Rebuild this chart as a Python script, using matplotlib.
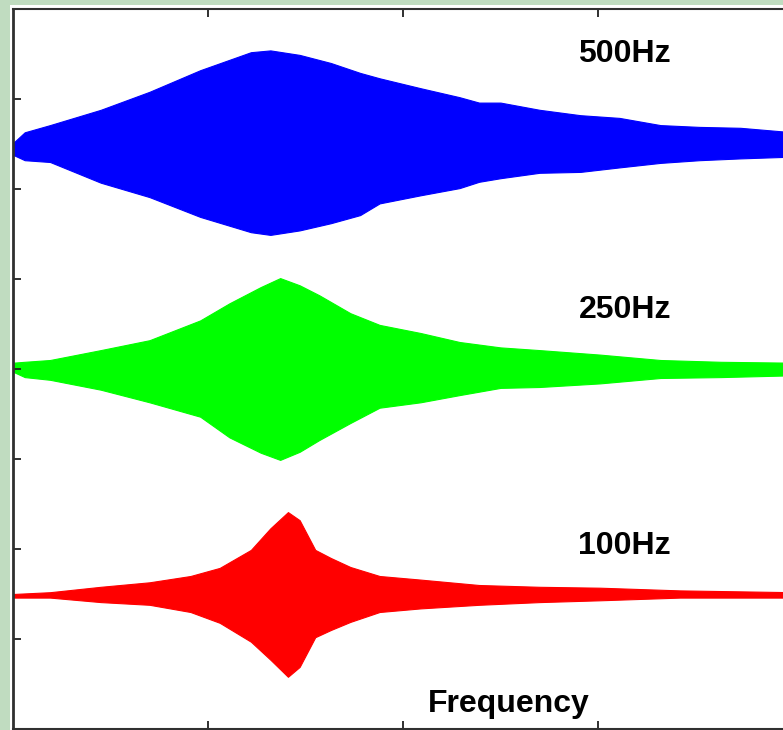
import matplotlib
matplotlib.use("Agg")
import matplotlib.pyplot as plt
from matplotlib.patches import Rectangle
import numpy as np

# envelopes (x = frequency axis units, y = plot units)
blue_x = [0, 0.06, 0.19, 0.45, 0.70, 0.96, 1.22, 1.32, 1.47, 1.63, 1.78, 1.88,
          2.09, 2.29, 2.39, 2.50, 2.70, 2.91, 3.11, 3.32, 3.52, 3.73, 4.0]
blue_hi = [6.51, 6.63, 6.71, 6.88, 7.08, 7.32, 7.52, 7.54, 7.49, 7.40, 7.29, 7.23,
           7.12, 7.02, 6.96, 6.96, 6.88, 6.82, 6.79, 6.71, 6.69, 6.68, 6.63]
blue_lo = [6.38, 6.32, 6.30, 6.07, 5.91, 5.69, 5.52, 5.49, 5.54, 5.62, 5.71, 5.84,
           5.93, 6.01, 6.08, 6.12, 6.18, 6.19, 6.24, 6.29, 6.32, 6.34, 6.36]

green_x = [0, 0.06, 0.19, 0.45, 0.70, 0.96, 1.11, 1.27, 1.37, 1.47, 1.57, 1.73,
           1.88, 2.09, 2.29, 2.50, 2.70, 3.01, 3.32, 3.63, 4.0]
green_hi = [4.07, 4.08, 4.10, 4.21, 4.32, 4.54, 4.73, 4.91, 5.01, 4.93, 4.82, 4.62,
            4.49, 4.40, 4.30, 4.24, 4.21, 4.16, 4.10, 4.08, 4.07]
green_lo = [3.97, 3.91, 3.88, 3.77, 3.63, 3.47, 3.24, 3.07, 2.99, 3.08, 3.21, 3.40,
            3.57, 3.63, 3.71, 3.79, 3.80, 3.84, 3.90, 3.91, 3.93]

red_x = [0, 0.19, 0.45, 0.70, 0.91, 1.06, 1.22, 1.32, 1.41, 1.47, 1.55, 1.63,
         1.73, 1.88, 2.09, 2.39, 2.70, 3.01, 3.42, 4.0]
red_hi = [1.50, 1.52, 1.58, 1.63, 1.70, 1.79, 1.99, 2.23, 2.41, 2.32, 1.99, 1.90,
          1.80, 1.70, 1.66, 1.60, 1.58, 1.57, 1.54, 1.52]
red_lo = [1.46, 1.46, 1.41, 1.38, 1.30, 1.18, 0.97, 0.77, 0.58, 0.69, 1.02, 1.10,
          1.19, 1.30, 1.34, 1.38, 1.41, 1.43, 1.46, 1.46]

labels = ["500Hz", "250Hz", "100Hz"]
label_y = [7.41, 4.57, 1.94]

fig = plt.figure(figsize=(7.83, 7.30), dpi=100)
fig.patch.set_facecolor("white")
# light green window frame on the left and top
fig.patches.append(Rectangle((0, 0), 10 / 783, 1, transform=fig.transFigure,
                             facecolor="#c0dcc0", edgecolor="none", zorder=0))
fig.patches.append(Rectangle((0, 1 - 5 / 730), 1, 5 / 730, transform=fig.transFigure,
                             facecolor="#c0dcc0", edgecolor="none", zorder=0))

ax = fig.add_axes([13 / 783, 1 / 730, 780 / 783, 720 / 730])
ax.set_xlim(0, 4)
ax.set_ylim(0, 8)

ax.fill_between(blue_x, blue_lo, blue_hi, color="#0000ff", lw=0.8)
ax.fill_between(green_x, green_lo, green_hi, color="#00ff00", lw=0.8)
ax.fill_between(red_x, red_lo, red_hi, color="#ff0000", lw=0.8)

for t, y in zip(labels, label_y):
    ax.text(2.90, y, t, fontsize=23, family="Liberation Sans", fontweight="bold",
            ha="left", va="baseline")
ax.text(2.13, 0.19, "Frequency", fontsize=23, family="Liberation Sans",
        fontweight="bold", ha="left", va="baseline")

ax.set_xticks([1, 2, 3])
ax.set_yticks([1, 2, 3, 4, 5, 6, 7])
ax.set_xticklabels([])
ax.set_yticklabels([])
ax.tick_params(direction="in", length=6, width=1.3, colors="#202020",
               top=True, right=True, bottom=True, left=True)
for s in ax.spines.values():
    s.set_color("#303030")
ax.spines["left"].set_linewidth(2.0)
ax.spines["top"].set_linewidth(1.5)
ax.spines["bottom"].set_linewidth(1.5)

fig.savefig("out.png", dpi=100, facecolor=fig.get_facecolor())
